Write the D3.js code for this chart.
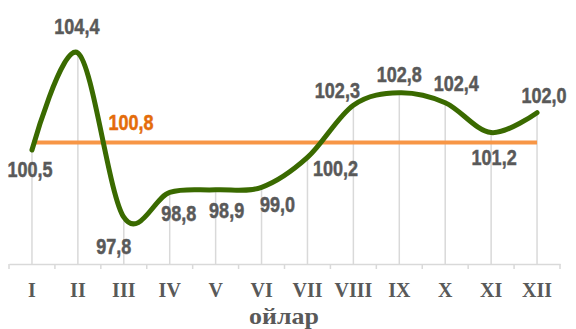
<!DOCTYPE html>
<html>
<head>
<meta charset="utf-8">
<script src="https://cdn.jsdelivr.net/npm/d3@7"></script>
<style>
  html, body { margin: 0; padding: 0; background: #fff; }
  svg { display: block; }
</style>
</head>
<body>
<svg id="chart" width="576" height="329"></svg>
<script>
// ---- data ----
const months = ["I", "II", "III", "IV", "V", "VI", "VII", "VIII", "IX", "X", "XI", "XII"];
const values = [100.5, 104.4, 97.8, 98.8, 98.9, 99.0, 100.2, 102.3, 102.8, 102.4, 101.2, 102.0];
const average = [100.8, 100.8, 100.8, 100.8, 100.8, 100.8, 100.8, 100.8, 100.8, 100.8, 100.8, 100.8];
const valueLabels = ["100,5", "104,4", "97,8", "98,8", "98,9", "99,0", "100,2", "102,3", "102,8", "102,4", "101,2", "102,0"];
const averageLabel = "100,8";
const axisTitle = "ойлар";

// ---- layout (not data) ----
const labelOffsets = [[-2, 27], [-1, -19], [-10, 37], [9, 29], [11, 28], [16, 25], [28, 19], [-16, -7], [0, -11], [11, -12], [3, 32], [7, -10]];

const svg = d3.select("#chart");
const x = d3.scaleBand().domain(months).range([9, 560]).padding(0);
const y = d3.scaleLinear().domain([95.9, 105]).range([264.5, 38]);
const axisY = 264;
const cx = m => x(m) + x.bandwidth() / 2;

const pts = months.map((m, i) => ({ m, v: values[i], a: average[i], lab: valueLabels[i], off: labelOffsets[i] }));

// drop lines
svg.append("g").selectAll("line").data(pts).join("line")
  .attr("x1", d => cx(d.m)).attr("x2", d => cx(d.m))
  .attr("y1", d => y(d.v)).attr("y2", axisY)
  .attr("stroke", "#d9d9d9").attr("stroke-width", 1.5);

// x axis
const xAxis = d3.axisBottom(x).tickSize(0).tickFormat("");
const gx = svg.append("g").attr("transform", `translate(0,${axisY})`).call(xAxis);
gx.select(".domain").attr("stroke", "#d9d9d9").attr("stroke-width", 1.5);
const bounds = months.map(m => x(m)).concat([x.range()[1]]);
svg.append("g").selectAll("line").data(bounds).join("line")
  .attr("x1", d => d).attr("x2", d => d)
  .attr("y1", axisY).attr("y2", axisY + 5)
  .attr("stroke", "#d9d9d9").attr("stroke-width", 1.5);

const serif = "'Liberation Serif', 'Times New Roman', serif";

// category labels
svg.append("g").selectAll("text").data(months).join("text")
  .attr("transform", d => `translate(${cx(d)},297) scale(1,1.1)`)
  .attr("text-anchor", "middle")
  .attr("font-family", serif)
  .attr("font-weight", "bold").attr("font-size", 20)
  .attr("fill", "#595959")
  .text(d => d);

svg.append("text")
  .attr("transform", "translate(284,324) scale(1.08,1)")
  .attr("text-anchor", "middle")
  .attr("font-family", serif)
  .attr("font-weight", "bold").attr("font-size", 24)
  .attr("fill", "#595959")
  .text(axisTitle);

// average line
svg.append("path")
  .datum(pts)
  .attr("d", d3.line().x(d => cx(d.m)).y(d => y(d.a)))
  .attr("fill", "none").attr("stroke", "#f79646").attr("stroke-width", 4);

// main line (smoothed)
svg.append("path")
  .datum(pts)
  .attr("d", d3.line().x(d => cx(d.m)).y(d => y(d.v)).curve(d3.curveCardinal.tension(0)))
  .attr("fill", "none").attr("stroke", "#3a6a00").attr("stroke-width", 5)
  .attr("stroke-linecap", "round");

const labFont = "'Liberation Sans', Arial, sans-serif";
const squeeze = 0.82;

// value labels
svg.append("g").selectAll("text").data(pts).join("text")
  .attr("transform", d => `translate(${cx(d.m) + d.off[0]},${y(d.v) + d.off[1]}) scale(${squeeze},1)`)
  .attr("text-anchor", "middle")
  .attr("font-family", labFont).attr("font-weight", "bold").attr("font-size", 22)
  .attr("fill", "#595959").attr("stroke", "#595959").attr("stroke-width", 0.5)
  .text(d => d.lab);

// average label
svg.append("text")
  .attr("transform", `translate(131,${y(average[1]) - 12.5}) scale(${squeeze},1)`)
  .attr("text-anchor", "middle")
  .attr("font-family", labFont).attr("font-weight", "bold").attr("font-size", 22)
  .attr("fill", "#e46c0a").attr("stroke", "#e46c0a").attr("stroke-width", 0.5)
  .text(averageLabel);
</script>
</body>
</html>
